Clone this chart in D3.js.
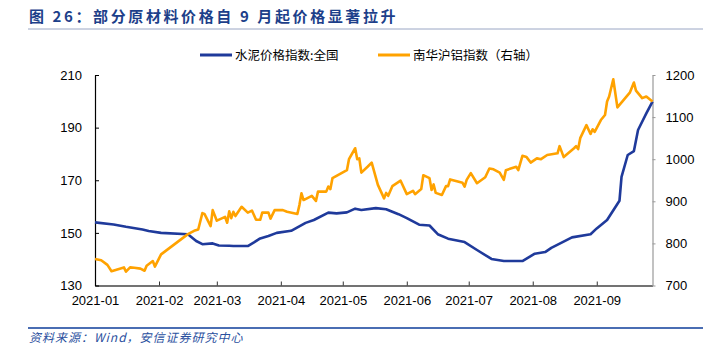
<!DOCTYPE html>
<html>
<head>
<meta charset="utf-8">
<script src="https://cdn.jsdelivr.net/npm/d3@7"></script>
<style>
body{margin:0;background:#fff;}
svg{display:block;font-family:"Liberation Sans",Arial,"Noto Sans CJK SC",sans-serif;}
</style>
</head>
<body>
<svg id="chart" width="703" height="349"></svg>
<script>
// 水泥价格指数:全国 (left axis)
let cementDates = ["2021-01-01","2021-01-10","2021-01-16","2021-01-24","2021-01-27","2021-02-02","2021-02-15","2021-02-19","2021-02-22","2021-02-27","2021-03-02","2021-03-07","2021-03-09","2021-03-16","2021-03-19","2021-03-22","2021-03-26","2021-03-30","2021-04-06","2021-04-13","2021-04-17","2021-04-24","2021-04-28","2021-05-03","2021-05-07","2021-05-10","2021-05-17","2021-05-22","2021-05-28","2021-06-01","2021-06-07","2021-06-12","2021-06-16","2021-06-21","2021-06-29","2021-07-05","2021-07-12","2021-07-18","2021-07-27","2021-08-02","2021-08-07","2021-08-10","2021-08-20","2021-08-29","2021-09-01","2021-09-06","2021-09-12","2021-09-13","2021-09-16","2021-09-19","2021-09-21","2021-09-25","2021-09-28"];
let cementValues = [154,153.2,152.3,151.3,150.7,150,149.5,146.9,145.7,146,145.2,145.1,145,145,146.4,147.9,148.8,150,150.8,153.8,154.9,157.7,157.4,157.8,159.2,158.7,159.4,159,157.1,155.6,153.1,152.8,149.5,147.8,146.5,143.5,140.1,139.3,139.3,142.1,142.7,144.3,148.3,149.5,151.7,154.9,162.2,171.3,179.6,181.1,189.1,195.4,199.9];

// 南华沪铝指数 (right axis)
let alumDates = ["2021-01-01","2021-01-04","2021-01-07","2021-01-09","2021-01-15","2021-01-16","2021-01-18","2021-01-20","2021-01-23","2021-01-25","2021-01-26","2021-01-29","2021-01-30","2021-02-02","2021-02-15","2021-02-18","2021-02-20","2021-02-22","2021-02-23","2021-02-26","2021-02-27","2021-03-01","2021-03-05","2021-03-06","2021-03-07","2021-03-08","2021-03-09","2021-03-10","2021-03-13","2021-03-16","2021-03-18","2021-03-20","2021-03-22","2021-03-23","2021-03-26","2021-03-27","2021-03-29","2021-04-02","2021-04-04","2021-04-09","2021-04-10","2021-04-11","2021-04-12","2021-04-16","2021-04-18","2021-04-19","2021-04-23","2021-04-24","2021-04-25","2021-04-26","2021-05-03","2021-05-04","2021-05-07","2021-05-08","2021-05-09","2021-05-10","2021-05-13","2021-05-15","2021-05-18","2021-05-21","2021-05-22","2021-05-23","2021-05-25","2021-05-29","2021-06-01","2021-06-04","2021-06-05","2021-06-08","2021-06-09","2021-06-12","2021-06-13","2021-06-14","2021-06-15","2021-06-18","2021-06-20","2021-06-21","2021-06-22","2021-06-28","2021-06-29","2021-06-30","2021-07-02","2021-07-05","2021-07-09","2021-07-11","2021-07-13","2021-07-16","2021-07-18","2021-07-19","2021-07-24","2021-07-25","2021-07-27","2021-07-29","2021-07-31","2021-08-03","2021-08-05","2021-08-08","2021-08-13","2021-08-14","2021-08-16","2021-08-21","2021-08-22","2021-08-23","2021-08-24","2021-08-27","2021-08-29","2021-08-30","2021-08-31","2021-09-03","2021-09-05","2021-09-06","2021-09-07","2021-09-09","2021-09-11","2021-09-17","2021-09-19","2021-09-20","2021-09-23","2021-09-25","2021-09-28"];
let alumValues = [763,760,749,734,743,733,743,742,740,735,747,758,745,774,822,830,833,872,870,841,879,854,863,849,876,860,875,865,887,873,878,856,856,873,873,859,879,879,875,870,891,919,903,913,901,923,923,935,929,955,974,1000,1026,1000,1002,968,982,992,939,907,920,913,936,949,917,925,917,929,962,955,927,940,920,915,936,936,952,944,935,951,967,943,957,978,976,968,951,974,982,974,1008,1005,992,1002,1000,1010,1014,1031,1005,1026,1031,1024,1050,1081,1060,1071,1065,1093,1105,1137,1149,1190,1123,1158,1182,1163,1145,1149,1137];

let leftTicks = [130,150,170,190,210];
let rightTicks = [700,800,900,1000,1100,1200];
let seriesNames = ["水泥价格指数:全国","南华沪铝指数（右轴）"];
let titleText = "图 26：部分原材料价格自 9 月起价格显著拉升";
let sourceText = "资料来源：Wind，安信证券研究中心";

let parse = d3.utcParse("%Y-%m-%d");
let cement = cementDates.map((d,i)=>({date:parse(d), v:cementValues[i]}));
let alum = alumDates.map((d,i)=>({date:parse(d), v:alumValues[i]}));

let svg = d3.select("#chart");
let plotL=95, plotR=652.5, plotT=75, plotB=285.5;

let x = d3.scaleUtc().domain([parse("2021-01-01"), parse("2021-09-28")]).range([plotL,plotR]);
let yL = d3.scaleLinear().domain([130,210]).range([plotB,plotT]);
let yR = d3.scaleLinear().domain([700,1200]).range([plotB,plotT]);

// title
svg.append("text")
    .attr("x",29).attr("y",22)
    .attr("fill","#1d3f8a")
    .attr("font-size",15).attr("font-weight","bold")
    .attr("font-family","'Noto Sans CJK SC',sans-serif")
    .attr("letter-spacing",2.6)
    .text(titleText);
svg.append("line").attr("x1",28).attr("x2",703).attr("y1",29).attr("y2",29)
    .attr("stroke","#9aa6c4").attr("stroke-width",1);

// footer
svg.append("line").attr("x1",28).attr("x2",703).attr("y1",328).attr("y2",328)
    .attr("stroke","#4a6db3").attr("stroke-width",2);
svg.append("text")
    .attr("x",29).attr("y",342)
    .attr("fill","#2a4f9e")
    .attr("font-size",12).attr("font-style","italic")
    .attr("font-family","'Noto Sans CJK SC',sans-serif")
    .attr("letter-spacing",1)
    .text(sourceText);

// axes
let gx = svg.append("g").attr("transform",`translate(0,${plotB})`)
    .call(d3.axisBottom(x).ticks(d3.utcMonth.every(1)).tickFormat(d3.utcFormat("%Y-%m")).tickSizeInner(-4).tickSizeOuter(0).tickPadding(10));
gx.select(".domain").attr("stroke","#444").attr("stroke-width",1.5);
gx.selectAll(".tick line").attr("stroke","#333");
gx.selectAll(".tick text").attr("font-size",13).attr("fill","#000").attr("font-family","'Liberation Sans',Arial,sans-serif");

let gl = svg.append("g").attr("transform",`translate(${plotL},0)`)
    .call(d3.axisLeft(yL).tickValues(leftTicks).tickSizeInner(-4).tickSizeOuter(0).tickPadding(13));
gl.select(".domain").attr("stroke","#000").attr("stroke-width",1.2);
gl.selectAll(".tick line").attr("stroke","#000");
gl.selectAll(".tick text").attr("font-size",13).attr("fill","#000").attr("font-family","'Liberation Sans',Arial,sans-serif");

let gr = svg.append("g").attr("transform",`translate(${plotR},0)`)
    .call(d3.axisRight(yR).tickValues(rightTicks).tickFormat(d3.format("d")).tickSizeInner(3).tickSizeOuter(0).tickPadding(10));
gr.select(".domain").attr("stroke","#999").attr("stroke-width",1.2);
gr.selectAll(".tick line").attr("stroke","#999");
gr.selectAll(".tick text").attr("font-size",13).attr("fill","#000").attr("font-family","'Liberation Sans',Arial,sans-serif");

// lines
let lineL = d3.line().x(d=>x(d.date)).y(d=>yL(d.v));
let lineR = d3.line().x(d=>x(d.date)).y(d=>yR(d.v));

svg.append("path").datum(cement)
    .attr("d",lineL).attr("fill","none")
    .attr("stroke","#1f3a9b").attr("stroke-width",2.6).attr("stroke-linejoin","round");
svg.append("path").datum(alum)
    .attr("d",lineR).attr("fill","none")
    .attr("stroke","#ffa200").attr("stroke-width",2.6).attr("stroke-linejoin","round");

// legend
let legend = [
    {name:seriesNames[0], color:"#1f3a9b", x:200},
    {name:seriesNames[1], color:"#ffa200", x:378}
];
let lg = svg.selectAll("g.legend").data(legend).join("g").attr("class","legend")
    .attr("transform",d=>`translate(${d.x},55)`);
lg.append("line").attr("x1",0).attr("x2",32).attr("y1",0).attr("y2",0)
    .attr("stroke",d=>d.color).attr("stroke-width",3);
lg.append("text").attr("x",35).attr("y",4.5)
    .attr("font-size",12.5).attr("fill","#000")
    .attr("font-family","'Noto Sans CJK SC',sans-serif")
    .text(d=>d.name);
</script>
</body>
</html>
